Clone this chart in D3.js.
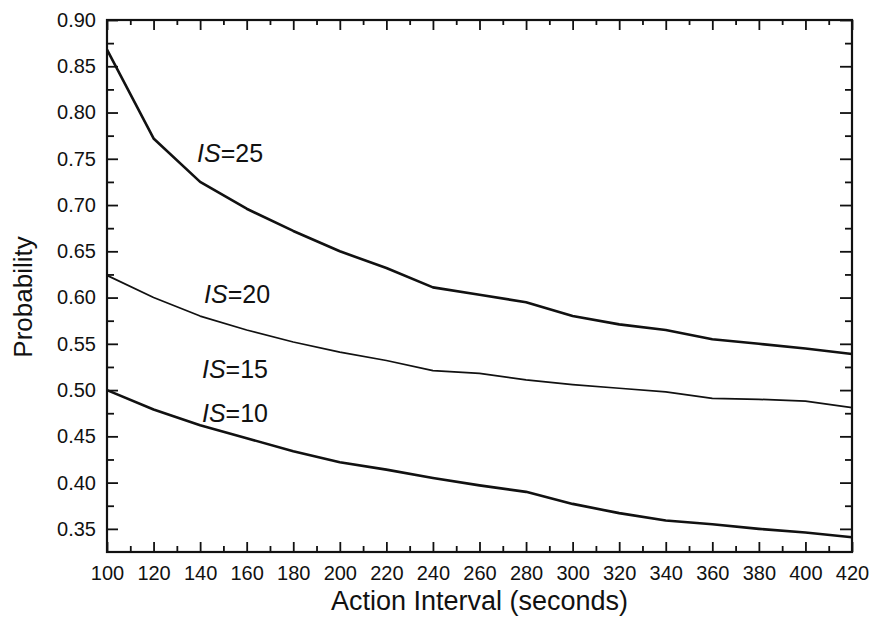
<!DOCTYPE html>
<html>
<head>
<meta charset="utf-8">
<script src="https://cdn.jsdelivr.net/npm/d3@7/dist/d3.min.js"></script>
<style>
  html, body { margin: 0; padding: 0; background: #fff; }
  svg text { font-family: Arial, "Liberation Sans", Helvetica, sans-serif; fill: #111; }
</style>
</head>
<body>
<svg id="chart" width="873" height="632"></svg>
<script>
const xValues = [100, 120, 140, 160, 180, 200, 220, 240, 260, 280, 300, 320, 340, 360, 380, 400, 420];
const is25 = [0.868, 0.772, 0.725, 0.696, 0.672, 0.650, 0.632, 0.611, 0.603, 0.595, 0.580, 0.571, 0.565, 0.555, 0.550, 0.545, 0.539];
const is20 = [0.624, 0.600, 0.580, 0.565, 0.552, 0.541, 0.532, 0.521, 0.518, 0.511, 0.506, 0.502, 0.498, 0.491, 0.490, 0.488, 0.481];
const is10 = [0.500, 0.479, 0.462, 0.448, 0.434, 0.422, 0.414, 0.405, 0.397, 0.390, 0.377, 0.367, 0.359, 0.355, 0.350, 0.346, 0.341];
const xTicks = [100, 120, 140, 160, 180, 200, 220, 240, 260, 280, 300, 320, 340, 360, 380, 400, 420];
const xMinorTicks = [110, 130, 150, 170, 190, 210, 230, 250, 270, 290, 310, 330, 350, 370, 390, 410];
const yTicks = [0.35, 0.40, 0.45, 0.50, 0.55, 0.60, 0.65, 0.70, 0.75, 0.80, 0.85, 0.90];
const yMinorTicks = [0.375, 0.425, 0.475, 0.525, 0.575, 0.625, 0.675, 0.725, 0.775, 0.825, 0.875];
const labels = [
  { num: "25", x: 138.7, y: 0.7465 },
  { num: "20", x: 141.7, y: 0.5941 },
  { num: "15", x: 140.8, y: 0.5131 },
  { num: "10", x: 140.8, y: 0.4655 }
];
const seriesList = [
  { name: "IS=25", values: is25, width: 2.6 },
  { name: "IS=20", values: is20, width: 1.7 },
  { name: "IS=10", values: is10, width: 2.6 }
];

const svg = d3.select("#chart");
const mLeft = 107, mRight = 852, mTop = 20, mBottom = 552;
const x = d3.scaleLinear().domain([100, 420]).range([mLeft, mRight]);
const y = d3.scaleLinear().domain([0.325, 0.90]).range([mBottom, mTop]);

function styleAxis(g) {
  g.select(".domain").remove();
  g.selectAll(".tick line").attr("stroke", "#111").attr("stroke-width", 1.8);
}

// bottom
svg.append("g").attr("transform", `translate(0,${mBottom})`)
  .call(d3.axisBottom(x).tickValues(xTicks).tickSize(-10).tickPadding(14).tickFormat(d3.format("d")))
  .call(styleAxis)
  .call(g => g.selectAll("text").attr("font-size", 20).attr("fill", "#111"));
svg.append("g").attr("transform", `translate(0,${mBottom})`)
  .call(d3.axisBottom(x).tickValues(xMinorTicks).tickSize(-6).tickFormat(""))
  .call(styleAxis);
// top
svg.append("g").attr("transform", `translate(0,${mTop})`)
  .call(d3.axisTop(x).tickValues(xTicks).tickSize(-10).tickFormat(""))
  .call(styleAxis);
svg.append("g").attr("transform", `translate(0,${mTop})`)
  .call(d3.axisTop(x).tickValues(xMinorTicks).tickSize(-5).tickFormat(""))
  .call(styleAxis);
// left
svg.append("g").attr("transform", `translate(${mLeft},0)`)
  .call(d3.axisLeft(y).tickValues(yTicks).tickSize(-11).tickPadding(11).tickFormat(d3.format(".2f")))
  .call(styleAxis)
  .call(g => g.selectAll("text").attr("font-size", 20).attr("fill", "#111"));
svg.append("g").attr("transform", `translate(${mLeft},0)`)
  .call(d3.axisLeft(y).tickValues(yMinorTicks).tickSize(-7).tickFormat(""))
  .call(styleAxis);
// right
svg.append("g").attr("transform", `translate(${mRight},0)`)
  .call(d3.axisRight(y).tickValues(yTicks).tickSize(-12).tickFormat(""))
  .call(styleAxis);
svg.append("g").attr("transform", `translate(${mRight},0)`)
  .call(d3.axisRight(y).tickValues(yMinorTicks).tickSize(-7).tickFormat(""))
  .call(styleAxis);

// frame
svg.append("rect").attr("x", mLeft).attr("y", mTop)
  .attr("width", mRight - mLeft).attr("height", mBottom - mTop)
  .attr("fill", "none").attr("stroke", "#111").attr("stroke-width", 2.2);

// lines
const line = d3.line().x((d, i) => x(xValues[i])).y(d => y(d));
svg.append("g").selectAll("path").data(seriesList).join("path")
  .attr("d", d => line(d.values))
  .attr("fill", "none").attr("stroke", "#111")
  .attr("stroke-width", d => d.width)
  .attr("stroke-linejoin", "round");

// labels
const lab = svg.append("g").selectAll("text").data(labels).join("text")
  .attr("x", d => x(d.x)).attr("y", d => y(d.y))
  .attr("font-size", 25);
lab.append("tspan").attr("font-style", "italic").text("IS");
lab.append("tspan").text(d => "=" + d.num);

// axis titles
svg.append("text").attr("x", (mLeft + mRight) / 2).attr("y", 610)
  .attr("text-anchor", "middle").attr("font-size", 27)
  .text("Action Interval (seconds)");
svg.append("text").attr("transform", "translate(32,297) rotate(-90)")
  .attr("text-anchor", "middle").attr("font-size", 26)
  .text("Probability");
</script>
</body>
</html>
